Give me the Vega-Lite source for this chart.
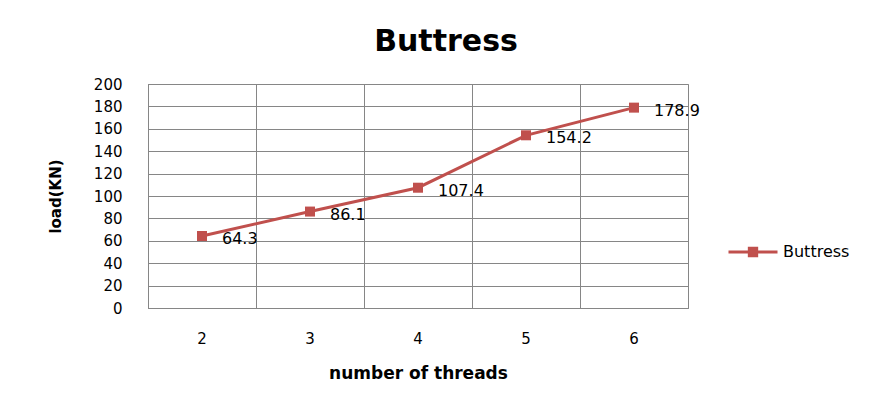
{
  "$schema": "https://vega.github.io/schema/vega-lite/v6.json",
  "width": 540,
  "height": 224,
  "autosize": "none",
  "padding": {"left": 148, "top": 84, "right": 185, "bottom": 96},
  "background": "white",
  "title": {
    "text": "Buttress",
    "font": "DejaVu Sans",
    "fontSize": 30,
    "fontWeight": "bold",
    "color": "black",
    "anchor": "middle",
    "dx": 28,
    "offset": 20
  },
  "config": {
    "view": {"stroke": "#868686", "strokeWidth": 1},
    "font": "DejaVu Sans"
  },
  "data": {
    "values": [
      {"threads": "2", "load": 64.3, "series": "Buttress"},
      {"threads": "3", "load": 86.1, "series": "Buttress"},
      {"threads": "4", "load": 107.4, "series": "Buttress"},
      {"threads": "5", "load": 154.2, "series": "Buttress"},
      {"threads": "6", "load": 178.9, "series": "Buttress"}
    ]
  },
  "encoding": {
    "x": {
      "field": "threads",
      "type": "ordinal",
      "bandPosition": 0.5,
      "scale": {"type": "band", "paddingInner": 0, "paddingOuter": 0},
      "axis": {
        "title": "number  of threads",
        "titleFont": "DejaVu Sans",
        "titleFontSize": 17,
        "titleFontWeight": "bold",
        "titleColor": "black",
        "titlePadding": 19,
        "labelAngle": 0,
        "labelFont": "DejaVu Sans",
        "labelFontSize": 15,
        "labelColor": "black",
        "labelPadding": 23,
        "bandPosition": 0,
        "labelOffset": 0,
        "grid": true,
        "gridColor": "#868686",
        "gridOpacity": 1,
        "ticks": false,
        "domainColor": "#868686"
      }
    },
    "y": {
      "field": "load",
      "type": "quantitative",
      "scale": {"domain": [0, 200], "nice": false},
      "axis": {
        "title": "load(KN)",
        "titleFont": "DejaVu Sans",
        "titleFontSize": 15,
        "titleFontWeight": "bold",
        "titleColor": "black",
        "titlePadding": 30,
        "values": [0, 20, 40, 60, 80, 100, 120, 140, 160, 180, 200],
        "labelFont": "DejaVu Sans",
        "labelFontSize": 15,
        "labelColor": "black",
        "labelPadding": 26,
        "ticks": false,
        "grid": true,
        "gridColor": "#868686",
        "gridOpacity": 1,
        "domainColor": "#868686"
      }
    },
    "color": {
      "field": "series",
      "type": "nominal",
      "scale": {"range": ["#C0504D"]},
      "legend": {
        "title": null,
        "orient": "none",
        "legendX": 579,
        "legendY": 142,
        "labelFont": "DejaVu Sans",
        "labelFontSize": 16,
        "labelColor": "black",
        "labelOffset": 4,
        "symbolType": "M-1,0H1M-0.15,-0.15H0.15V0.15H-0.15Z",
        "symbolSize": 2401,
        "symbolStrokeWidth": 3,
        "symbolFillColor": "#C0504D",
        "symbolStrokeColor": "#C0504D",
        "symbolOpacity": 1
      }
    }
  },
  "layer": [
    {"mark": {"type": "line", "strokeWidth": 3}},
    {"mark": {"type": "point", "shape": "square", "filled": true, "size": 100, "opacity": 1}},
    {
      "mark": {"type": "text", "align": "left", "baseline": "middle", "dx": 20, "dy": 3, "font": "DejaVu Sans", "fontSize": 16, "color": "black"},
      "encoding": {"text": {"field": "load", "type": "quantitative", "format": ".1f"}, "color": {"value": "black"}}
    }
  ]
}
